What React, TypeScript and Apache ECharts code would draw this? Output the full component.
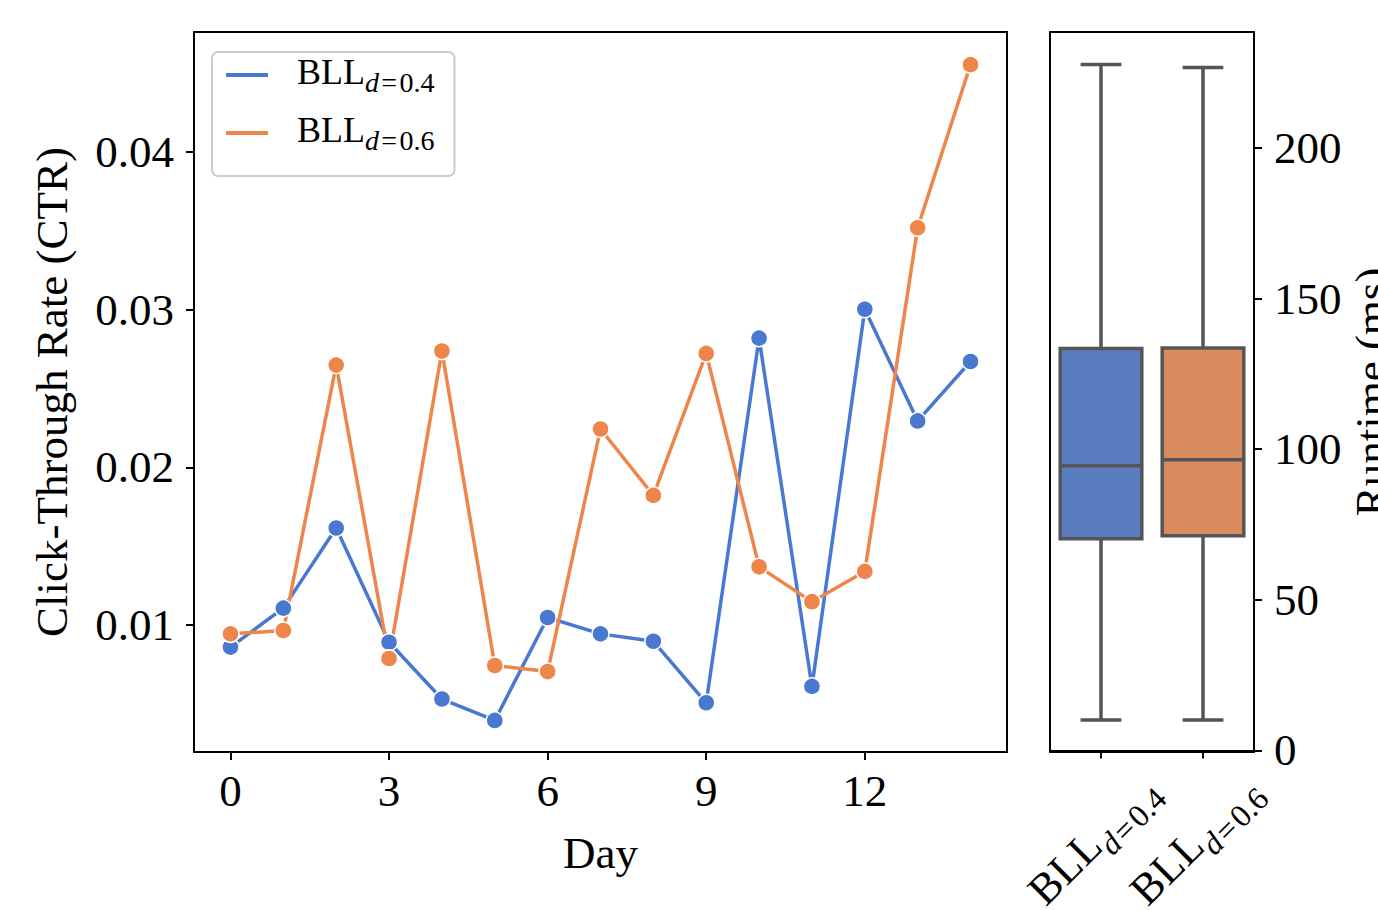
import React, { useEffect, useRef } from "react";
import * as echarts from "echarts";

const days = [0, 1, 2, 3, 4, 5, 6, 7, 8, 9, 10, 11, 12, 13, 14];
const ctrD04 = [0.0086, 0.01107, 0.01615, 0.00891, 0.00531, 0.00395, 0.01048, 0.00944, 0.00897, 0.00507, 0.02819, 0.00611, 0.03002, 0.02294, 0.02671];
const ctrD06 = [0.00944, 0.00965, 0.02648, 0.00788, 0.02737, 0.00743, 0.00705, 0.02243, 0.01822, 0.02722, 0.01369, 0.01148, 0.0134, 0.03519, 0.04553];
const seriesNames = ["BLL_d=0.4", "BLL_d=0.6"];
const dayTicks = [0, 3, 6, 9, 12];
const ctrTicks = [0.01, 0.02, 0.03, 0.04];
const boxCategories = ["BLL_d=0.4", "BLL_d=0.6"];
// [lower whisker, Q1, median, Q3, upper whisker]
const runtimeStats = [
  [10.1, 70.3, 94.5, 133.4, 227.7],
  [10.1, 71.3, 96.5, 133.6, 226.7],
];
const runtimeTicks = [0, 50, 100, 150, 200];

const FONT = "'Liberation Serif', 'DejaVu Serif', serif";
const lineColors = ["#4878d0", "#ee854a"];
const boxColors = ["#5a7dc0", "#d98b5f"];
const GRAY = "#555555";

function richLabel(name: string) {
  const [main, sub] = name.split("_");
  const ital = sub.charAt(0);
  const rest = sub.slice(1).replace("=", "\u200a=\u200a");
  return `{m|${main}}{i|${ital}}{s|${rest}}`;
}

export default function App() {
  const ref = useRef<HTMLDivElement>(null);
  useEffect(() => {
    if (!ref.current) return;
    const chart = echarts.init(ref.current, undefined, { renderer: "svg" });
    const tickLabel = { fontFamily: FONT, fontSize: 45, color: "#000" };
    const option: any = {
      animation: false,
      backgroundColor: "#fff",
      grid: [
        { left: 194, top: 32, width: 813, height: 720, show: true, borderColor: "#000", borderWidth: 2, backgroundColor: "transparent", outerBoundsMode: "none", containLabel: false },
        { left: 1050, top: 32, width: 204, height: 720, show: true, borderColor: "#000", borderWidth: 2, backgroundColor: "transparent", outerBoundsMode: "none", containLabel: false },
      ],
      legend: {
        data: seriesNames,
        orient: "vertical",
        left: 212,
        top: 52,
        padding: [2, 20, 22, 14],
        itemGap: 16,
        itemWidth: 42,
        itemHeight: 4,
        icon: "rect",
        itemStyle: { borderWidth: 0 },
        backgroundColor: "#fff",
        borderColor: "#cccccc",
        borderWidth: 2,
        borderRadius: 6,
        formatter: (n: string) => richLabel(n),
        textStyle: {
          fontFamily: FONT,
          color: "#000",
          rich: {
            m: { fontFamily: FONT, fontSize: 36, color: "#000", verticalAlign: "top", padding: [0, 0, 6, 24] },
            i: { fontFamily: FONT, fontSize: 28, fontStyle: "italic", color: "#000", verticalAlign: "bottom" },
            s: { fontFamily: FONT, fontSize: 28, color: "#000", verticalAlign: "bottom" },
          },
        },
      },
      xAxis: [
        {
          type: "value",
          gridIndex: 0,
          min: -0.69,
          max: 14.69,
          name: "Day",
          nameLocation: "middle",
          nameGap: 78,
          nameTextStyle: { fontFamily: FONT, fontSize: 45, color: "#000" },
          splitLine: { show: false },
          axisLine: { show: true, onZero: false, lineStyle: { color: "#000", width: 2 } },
          axisTick: { show: true, inside: false, length: 8, lineStyle: { color: "#000", width: 2 }, customValues: dayTicks },
          axisLabel: { ...tickLabel, margin: 16, customValues: dayTicks, formatter: (v: number) => String(v) },
        },
        {
          type: "category",
          gridIndex: 1,
          data: boxCategories,
          splitLine: { show: false },
          axisLine: { show: true, lineStyle: { color: "#000", width: 2 } },
          axisTick: { show: true, alignWithLabel: true, inside: false, length: 8, lineStyle: { color: "#000", width: 2 } },
          axisLabel: {
            interval: 0,
            rotate: 45,
            align: "center",
            verticalAlign: "middle",
            margin: 86,
            formatter: (v: string) => richLabel(v),
            rich: {
              m: { fontFamily: FONT, fontSize: 44, color: "#000", verticalAlign: "top", padding: [0, 0, 9, 0] },
              i: { fontFamily: FONT, fontSize: 32, fontStyle: "italic", color: "#000", verticalAlign: "bottom" },
              s: { fontFamily: FONT, fontSize: 32, color: "#000", verticalAlign: "bottom", padding: [0, 14, 0, 0] },
            },
          },
        },
      ],
      yAxis: [
        {
          type: "value",
          gridIndex: 0,
          min: 0.00195,
          max: 0.0476,
          name: "Click-Through Rate (CTR)",
          nameLocation: "middle",
          nameRotate: 90,
          nameGap: 120,
          nameTextStyle: { fontFamily: FONT, fontSize: 45, color: "#000" },
          splitLine: { show: false },
          axisLine: { show: true, onZero: false, lineStyle: { color: "#000", width: 2 } },
          axisTick: { show: true, inside: false, length: 8, lineStyle: { color: "#000", width: 2 }, customValues: ctrTicks },
          axisLabel: { ...tickLabel, margin: 20, customValues: ctrTicks, formatter: (v: number) => v.toFixed(2) },
        },
        {
          type: "value",
          gridIndex: 1,
          position: "right",
          min: -0.5,
          max: 238.5,
          name: "Runtime (ms)",
          nameLocation: "middle",
          nameRotate: 90,
          nameGap: 94,
          nameMoveOverlap: false,
          nameTextStyle: { fontFamily: FONT, fontSize: 45, color: "#000" },
          splitLine: { show: false },
          axisLine: { show: true, onZero: false, lineStyle: { color: "#000", width: 2 } },
          axisTick: { show: true, inside: false, length: 8, lineStyle: { color: "#000", width: 2 }, customValues: runtimeTicks },
          axisLabel: { ...tickLabel, margin: 20, customValues: runtimeTicks, formatter: (v: number) => String(v) },
        },
      ],
      series: [
        {
          name: seriesNames[0],
          type: "line",
          xAxisIndex: 0,
          yAxisIndex: 0,
          data: days.map((d, i) => [d, ctrD04[i]]),
          symbol: "circle",
          symbolSize: 17,
          color: lineColors[0],
          lineStyle: { width: 3.5, color: lineColors[0] },
          itemStyle: { color: lineColors[0], borderColor: "#fff", borderWidth: 1.5 },
        },
        {
          name: seriesNames[1],
          type: "line",
          xAxisIndex: 0,
          yAxisIndex: 0,
          data: days.map((d, i) => [d, ctrD06[i]]),
          symbol: "circle",
          symbolSize: 17,
          color: lineColors[1],
          lineStyle: { width: 3.5, color: lineColors[1] },
          itemStyle: { color: lineColors[1], borderColor: "#fff", borderWidth: 1.5 },
        },
        {
          type: "custom",
          xAxisIndex: 1,
          yAxisIndex: 1,
          data: runtimeStats.map((s, i) => [i, ...s]),
          encode: { x: 0, y: [1, 2, 3, 4, 5] },
          renderItem: (params: any, api: any) => {
            const idx = api.value(0);
            const lo = api.coord([idx, api.value(1)]);
            const q1 = api.coord([idx, api.value(2)]);
            const med = api.coord([idx, api.value(3)]);
            const q3 = api.coord([idx, api.value(4)]);
            const hi = api.coord([idx, api.value(5)]);
            const band = api.size([1, 0])[0];
            const bw = band * 0.8;
            const cw = bw * 0.5;
            const cx = lo[0];
            const ls = { stroke: GRAY, lineWidth: 3.5, fill: null };
            return {
              type: "group",
              children: [
                { type: "line", shape: { x1: cx, y1: hi[1], x2: cx, y2: q3[1] }, style: ls },
                { type: "line", shape: { x1: cx, y1: q1[1], x2: cx, y2: lo[1] }, style: ls },
                { type: "line", shape: { x1: cx - cw / 2, y1: hi[1], x2: cx + cw / 2, y2: hi[1] }, style: ls },
                { type: "line", shape: { x1: cx - cw / 2, y1: lo[1], x2: cx + cw / 2, y2: lo[1] }, style: ls },
                {
                  type: "rect",
                  shape: { x: cx - bw / 2, y: q3[1], width: bw, height: q1[1] - q3[1] },
                  style: { fill: boxColors[idx], stroke: GRAY, lineWidth: 3.5 },
                },
                { type: "line", shape: { x1: cx - bw / 2, y1: med[1], x2: cx + bw / 2, y2: med[1] }, style: ls },
              ],
            };
          },
        },
      ],
    };
    chart.setOption(option);
    return () => chart.dispose();
  }, []);
  return (
    <div
      ref={ref}
      style={{ position: "fixed", left: 0, top: 0, width: 1378, height: 910, background: "#fff" }}
    />
  );
}
